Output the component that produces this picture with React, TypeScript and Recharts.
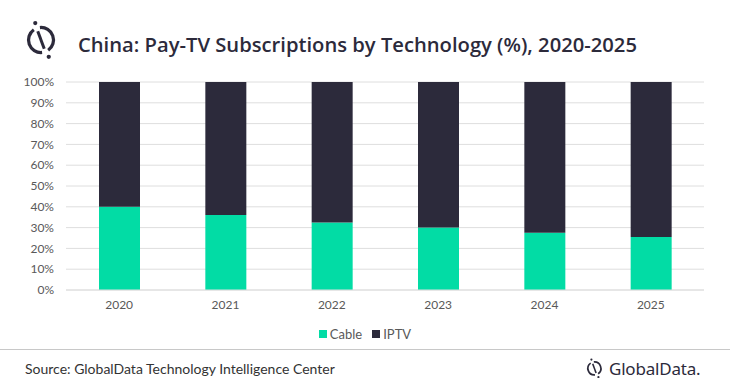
import React from 'react';
import { BarChart, Bar, XAxis, YAxis, CartesianGrid } from 'recharts';

const years = ['2020', '2021', '2022', '2023', '2024', '2025'];
const cable = [40, 36, 32.5, 30, 27.5, 25.5];
const iptv = [60, 64, 67.5, 70, 72.5, 74.5];
const yTicks = [0, 10, 20, 30, 40, 50, 60, 70, 80, 90, 100];

const title = 'China: Pay-TV Subscriptions by Technology (%), 2020-2025';
const source = 'Source: GlobalData Technology Intelligence Center';

const CABLE = '#02dca5';
const IPTV = '#2c2a3b';
const DARK = '#2c2a3b';

const data = years.map((y, i) => ({ year: y, Cable: cable[i], IPTV: iptv[i] }));

// Logo drawn in a unit box: circle radius 10 centred at (0,0)
function Logo({ cx, cy, r }: { cx: number; cy: number; r: number }) {
  const k = r / 10;
  const box = 16;
  const pt = (deg: number, rad = 10) => {
    const a = (deg * Math.PI) / 180;
    return `${(rad * Math.cos(a)).toFixed(2)} ${(rad * Math.sin(a)).toFixed(2)}`;
  };
  // slash direction angle (from centre towards top dot) ~ -110deg, bottom ~ 70deg
  return (
    <svg width={box * 2 * k} height={box * 2 * k}
      style={{ position: 'absolute', left: cx - box * k, top: cy - box * k }}
      viewBox={`${-box} ${-box} ${box * 2} ${box * 2}`}>
      <path d={`M ${pt(-95)} A 10 10 0 0 1 ${pt(55)}`} fill="none" stroke={DARK} strokeWidth={2.6} />
      <path d={`M ${pt(85)} A 10 10 0 0 1 ${pt(-125)}`} fill="none" stroke={DARK} strokeWidth={2.6} />
      <line x1={-2.6} y1={-7} x2={2.6} y2={7} stroke={DARK} strokeWidth={2.4} />
      <circle cx={-4.6} cy={-13.6} r={1.7} fill={DARK} />
      <circle cx={6.2} cy={13.4} r={1.7} fill={DARK} />
    </svg>
  );
}

export default function App() {
  return (
    <div style={{ position: 'fixed', left: 0, top: 0, width: 730, height: 391, background: '#fff', overflow: 'hidden' }}>
      <Logo cx={41} cy={40} r={12.5} />
      <div style={{ position: 'absolute', left: 78, top: 29, fontFamily: '"Open Sans", sans-serif', fontWeight: 600, fontSize: 20.2, color: DARK, whiteSpace: 'nowrap', lineHeight: '30px' }}>
        {title}
      </div>
      <BarChart width={730} height={391} data={data} margin={{ top: 82, right: 26, left: 0, bottom: 71 }} barSize={41}>
        <CartesianGrid vertical={false} stroke="#dedede" />
        <XAxis dataKey="year" axisLine={{ stroke: '#dedede' }} tickLine={false} height={30} tickMargin={4}
          tick={{ fill: '#595959', fontSize: 12, fontFamily: 'Lato, sans-serif' }} />
        <YAxis domain={[0, 100]} ticks={yTicks} width={66} axisLine={false} tickLine={false} tickMargin={6}
          tickFormatter={(v: number) => v + '%'} interval={0}
          tick={{ fill: '#595959', fontSize: 12, fontFamily: 'Lato, sans-serif' }} />
        <Bar dataKey="Cable" stackId="a" fill={CABLE} isAnimationActive={false} />
        <Bar dataKey="IPTV" stackId="a" fill={IPTV} isAnimationActive={false} />
      </BarChart>
      <div style={{ position: 'absolute', left: 0, top: 325, width: 730, display: 'flex', justifyContent: 'center', fontFamily: 'Lato, sans-serif', fontSize: 13, color: '#595959', lineHeight: '18px' }}>
        <div style={{ display: 'flex', alignItems: 'center', marginRight: 10 }}>
          <span style={{ width: 8, height: 8, background: CABLE, display: 'inline-block', marginRight: 3 }} />Cable
        </div>
        <div style={{ display: 'flex', alignItems: 'center' }}>
          <span style={{ width: 8, height: 8, background: IPTV, display: 'inline-block', marginRight: 3 }} />IPTV
        </div>
      </div>
      <div style={{ position: 'absolute', left: 0, top: 349, width: 730, height: 1, background: '#c8c8c8' }} />
      <div style={{ position: 'absolute', left: 25, top: 360, fontFamily: 'Lato, sans-serif', fontSize: 14, color: '#333', whiteSpace: 'nowrap', lineHeight: '18px' }}>
        {source}
      </div>
      <Logo cx={594} cy={368} r={6.5} />
      <div style={{ position: 'absolute', left: 609, top: 358, fontFamily: '"Noto Sans", sans-serif', fontSize: 17, color: DARK, whiteSpace: 'nowrap', lineHeight: '22px', letterSpacing: -0.2 }}>
        GlobalData.
      </div>
    </div>
  );
}
